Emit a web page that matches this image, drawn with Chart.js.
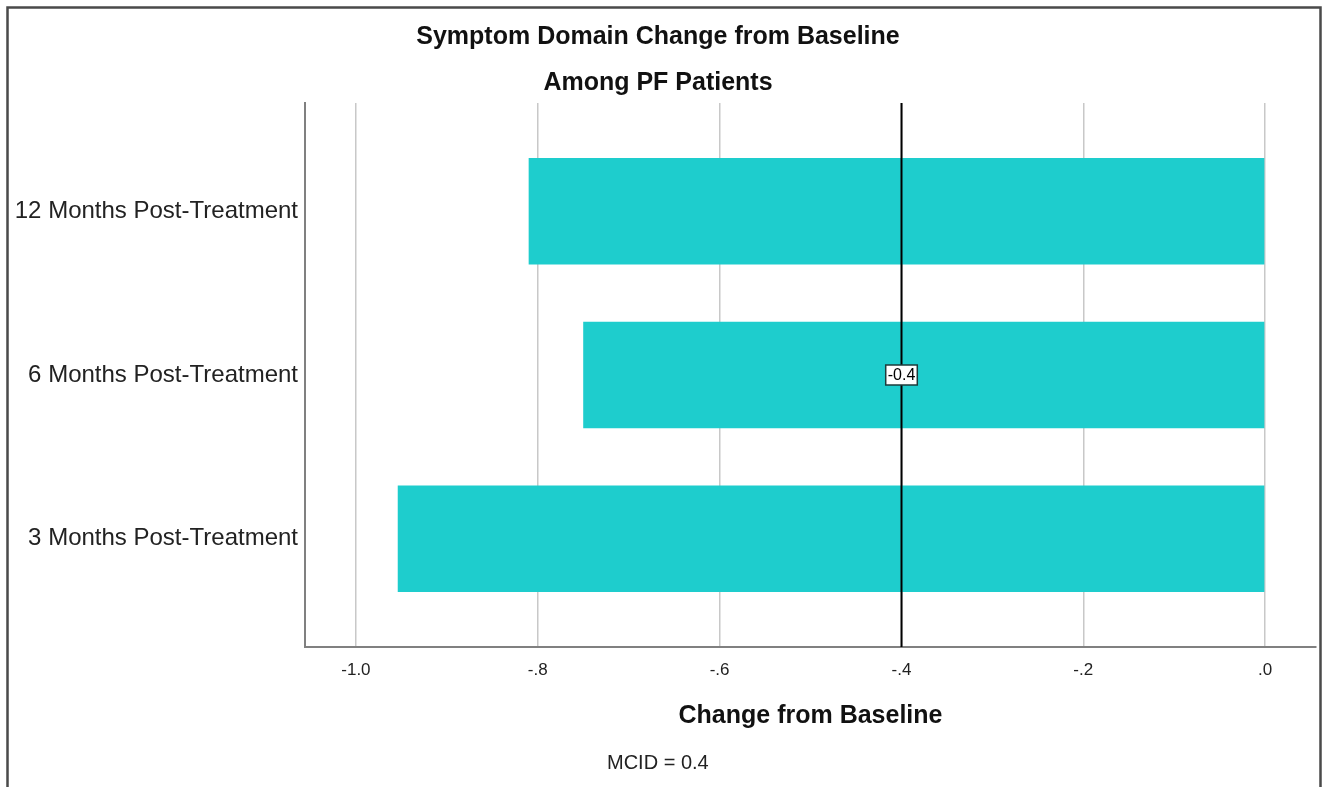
<!DOCTYPE html>
<html>
<head>
<meta charset="utf-8">
<script src="https://cdn.jsdelivr.net/npm/chart.js@4"></script>
<style>
  body { margin: 0; background: #fff; }
  #wrap { width: 1322px; height: 787px; position: relative; }
</style>
</head>
<body>
<div id="wrap"><canvas id="myChart"></canvas></div>
<script>
// categories (top to bottom) and mean change from baseline
const categories = ["12 Months Post-Treatment", "6 Months Post-Treatment", "3 Months Post-Treatment"];
const changeValues = [-0.81, -0.75, -0.954];
const xTickValues = [-1.0, -0.8, -0.6, -0.4, -0.2, 0.0];
const xTickLabels = ["-1.0", "-.8", "-.6", "-.4", "-.2", ".0"];
const mcid = -0.4;
const mcidLabel = "-0.4";
const footNote = "MCID = 0.4";

const fontFam = "'Liberation Sans', Arial, sans-serif";

// frame, reference line, its label and the footnote
const extras = {
  id: "extras",
  beforeDraw(chart) {
    const c = chart.ctx;
    c.save();
    c.strokeStyle = "#4a4a4a";
    c.lineWidth = 2.5;
    c.beginPath();
    c.moveTo(7.5, 790);
    c.lineTo(7.5, 7.5);
    c.lineTo(1320.5, 7.5);
    c.lineTo(1320.5, 790);
    c.stroke();
    c.restore();
  },
  afterDatasetsDraw(chart) {
    const c = chart.ctx;
    const area = chart.chartArea;
    const x = Math.round(chart.scales.x.getPixelForValue(mcid)) + 0.5;
    c.save();
    c.strokeStyle = "#000";
    c.lineWidth = 2;
    c.beginPath();
    c.moveTo(x, area.top);
    c.lineTo(x, area.bottom);
    c.stroke();

    const cy = (area.top + area.bottom) / 2;
    c.font = "16px " + fontFam;
    const w = c.measureText(mcidLabel).width + 4;
    const h = 20;
    c.fillStyle = "#fff";
    c.fillRect(x - w / 2, cy - h / 2, w, h);
    c.strokeStyle = "#1d3b3b";
    c.lineWidth = 1.5;
    c.strokeRect(x - w / 2, cy - h / 2, w, h);
    c.fillStyle = "#000";
    c.textAlign = "center";
    c.textBaseline = "middle";
    c.fillText(mcidLabel, x, cy + 1);

    c.font = "20px " + fontFam;
    c.fillStyle = "#222";
    c.textAlign = "left";
    c.fillText(footNote, 607, 763);
    c.restore();
  }
};

const ctx = document.getElementById("myChart").getContext("2d");
const myChart = new Chart(ctx, {
  type: "bar",
  data: {
    datasets: [{
      label: "Change from Baseline",
      data: changeValues.map((v, i) => ({ x: v, y: i })),
      backgroundColor: "#1ecdcd",
      borderWidth: 0,
      categoryPercentage: 1,
      barPercentage: 0.65
    }]
  },
  options: {
    indexAxis: "y",
    responsive: true,
    maintainAspectRatio: false,
    animation: false,
    layout: { padding: { top: 0, right: 6, bottom: 0, left: 0 } },
    plugins: {
      legend: { display: false },
      tooltip: { enabled: false },
      title: {
        display: true,
        text: "Symptom Domain Change from Baseline",
        color: "#111",
        font: { family: fontFam, size: 25, weight: "bold", lineHeight: 1.2 },
        padding: { top: 22, bottom: 0 }
      },
      subtitle: {
        display: true,
        text: "Among PF Patients",
        color: "#111",
        font: { family: fontFam, size: 25, weight: "bold", lineHeight: 1.2 },
        padding: { top: 16, bottom: 5 }
      }
    },
    scales: {
      x: {
        type: "linear",
        position: "bottom",
        min: -1.056,
        max: 0.056,
        afterBuildTicks: (scale) => { scale.ticks = xTickValues.map(v => ({ value: v })); },
        afterFit: (scale) => { scale.height = 140; },
        ticks: {
          color: "#222",
          font: { family: fontFam, size: 17 },
          padding: 13,
          maxRotation: 0,
          callback: (v, i) => xTickLabels[i]
        },
        grid: { color: "#c8c8c8", lineWidth: 1.5, drawTicks: false },
        border: { display: true, color: "#808080", width: 2 },
        title: {
          display: true,
          text: "Change from Baseline",
          color: "#111",
          font: { family: fontFam, size: 25, weight: "bold", lineHeight: 1.2 },
          padding: { top: 0, bottom: 56 }
        }
      },
      y: {
        type: "linear",
        reverse: true,
        offset: false,
        min: -0.66,
        max: 2.66,
        afterFit: (scale) => { scale.width = 305; },
        ticks: {
          stepSize: 1,
          includeBounds: false,
          color: "#222",
          font: { family: fontFam, size: 24 },
          padding: 7,
          callback: (v) => categories[v] || ""
        },
        grid: { display: false, drawTicks: false, offset: false },
        border: { display: true, color: "#808080", width: 2 }
      }
    }
  },
  plugins: [extras]
});
</script>
</body>
</html>
